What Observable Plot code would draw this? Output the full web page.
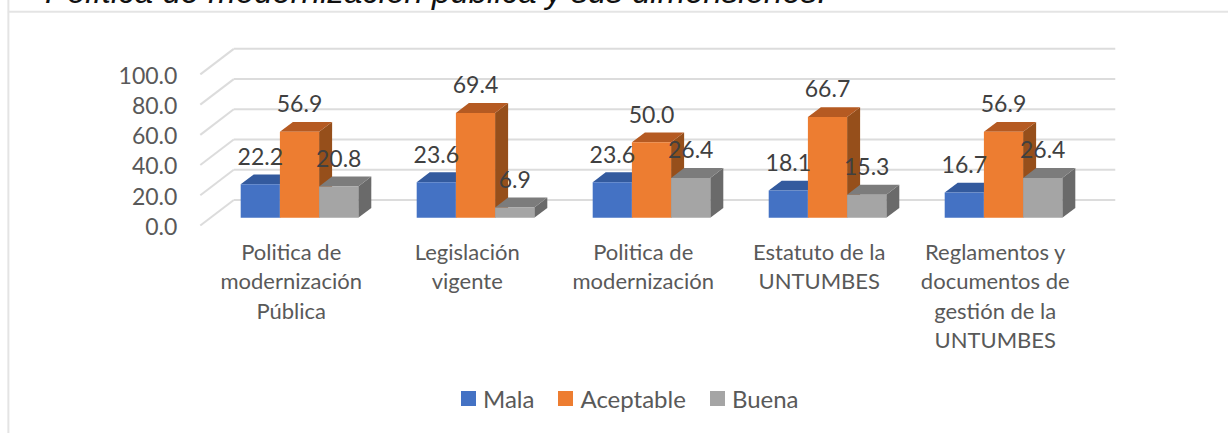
<!DOCTYPE html>
<html><head><meta charset="utf-8">
<script src="https://cdn.jsdelivr.net/npm/d3@7"></script>
<script src="https://cdn.jsdelivr.net/npm/@observablehq/plot@0.6"></script>
<style>
html,body{margin:0;padding:0;background:#fff;width:1228px;height:433px;overflow:hidden}
#wrap{position:relative;width:1228px;height:433px;overflow:hidden}
#title{position:absolute;left:45px;top:-27px;font:italic 33px "Liberation Sans",Arial,sans-serif;color:#111;white-space:nowrap}
#legend{position:absolute;left:461px;top:384px;display:flex;align-items:center;font:24px Lato,sans-serif;color:#595959;white-space:nowrap}
#legend i{display:inline-block;width:15px;height:15px;margin-right:7px}
#legend span{display:inline-flex;align-items:center;margin-right:24px}
svg{position:absolute;left:0;top:0}
</style></head><body>
<div id="wrap"><div id="title"></div><div id="chart"></div><div id="legend"></div></div>
<script>
const titleText = "Política de modernización pública y sus dimensiones.";
const categories = ["Politica de\nmodernización\nPública","Legislación\nvigente","Politica de\nmodernización","Estatuto de la\nUNTUMBES","Reglamentos y\ndocumentos de\ngestión de la\nUNTUMBES"];
const seriesNames = ["Mala","Aceptable","Buena"];
const mala = [22.2,23.6,23.6,18.1,16.7];
const aceptable = [56.9,69.4,50.0,66.7,56.9];
const buena = [20.8,6.9,26.4,15.3,26.4];
const seriesValues = [mala,aceptable,buena];
const tickValues = [0,20,40,60,80,100];
const frontColors = ["#4472C4","#ED7D31","#A5A5A5"];
const topColors = ["#335A9E","#B55A22","#7C7C7C"];
const sideColors = ["#2F5597","#964F1B","#6A6A6A"];

// Oblique projection, expressed in scale units (x: category spacing, y: percent)
const barW = 0.2227, depthX = 0.0739, depthY = 6.5;
const wallY = 11.8, floorFront = -5.1;
const left0 = -0.5635, wallLeft = left0 + 0.19, wallRight = 4.635;

const faces = [];
seriesValues.forEach((vals,s)=>vals.forEach((v,c)=>{
  const x0 = c + (s-1.5)*barW, x1 = x0 + barW;
  const add=(name,fill,pts)=>pts.forEach(([x,y])=>faces.push({id:`${s}-${c}-${name}`,x,y,fill}));
  add("side",sideColors[s],[[x1,0],[x1+depthX,depthY],[x1+depthX,v+depthY],[x1,v]]);
  add("top",topColors[s],[[x0,v],[x1,v],[x1+depthX,v+depthY],[x0+depthX,v+depthY]]);
  add("front",frontColors[s],[[x0,0],[x1,0],[x1,v],[x0,v]]);
}));
const labels = seriesValues.flatMap((vals,s)=>vals.map((v,c)=>({x:c+(s-1)*barW,v})));
const catRows = categories.map((t,c)=>({t,c:c-0.047}));

const chart = Plot.plot({
  width:1228,height:433,margin:0,
  x:{domain:[-1.6988,5.2784],range:[0,1228],axis:null},
  y:{domain:[-142.74,143.81],range:[433,0],axis:null},
  marks:[
    Plot.ruleX([-1.654],{y1:143.81,y2:-142.74,stroke:"#e4e4e4",strokeWidth:2}),
    Plot.ruleY([136.4],{x1:-1.654,x2:5.2784,stroke:"#e4e4e4",strokeWidth:2}),
    Plot.link(tickValues,{x1:left0,x2:wallLeft,y1:d=>d+floorFront,y2:d=>d+wallY,stroke:"#dcdcdc",strokeWidth:2}),
    Plot.link(tickValues,{x1:wallLeft,x2:wallRight,y1:d=>d+wallY,y2:d=>d+wallY,stroke:"#dcdcdc",strokeWidth:2}),
    Plot.line(faces,{x:"x",y:"y",z:"id",fill:"fill",stroke:"none"}),
    Plot.text(tickValues,{x:-0.694,y:d=>d+floorFront,dy:2,text:d=>d.toFixed(1),textAnchor:"end",fontFamily:"Lato",fontSize:23,fill:"#595959"}),
    Plot.text(labels,{x:"x",y:"v",dy:-27,text:d=>d.v.toFixed(1),fontFamily:"Lato",fontSize:23,fill:"#404040"}),
    Plot.text(catRows,{x:"c",y:-14,text:"t",lineAnchor:"top",lineHeight:1.34,fontFamily:"Lato",fontSize:22,fill:"#595959"})
  ]
});
document.getElementById("chart").append(chart);
document.getElementById("title").textContent = titleText;
const lg=document.getElementById("legend");
seriesNames.forEach((n,i)=>{const s=document.createElement("span");const b=document.createElement("i");b.style.background=frontColors[i];s.append(b,document.createTextNode(n));lg.append(s);});
</script></body></html>
